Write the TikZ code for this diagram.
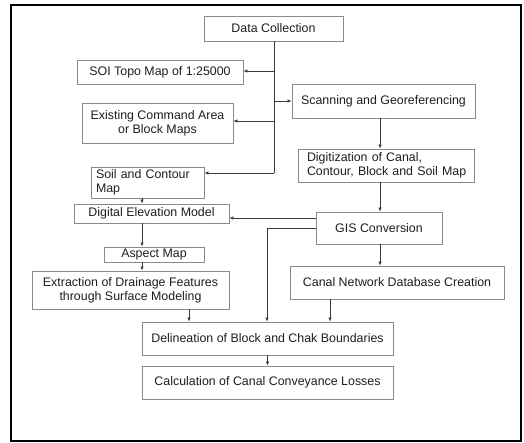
\documentclass[tikz,border=0pt]{standalone}
\usepackage{fontspec}
\setmainfont{Liberation Sans}
\usetikzlibrary{arrows.meta}
\definecolor{boxline}{HTML}{8A8A8A}
\definecolor{txt}{HTML}{1E1E1E}
\definecolor{conn}{HTML}{3A3A3A}
\begin{document}
\begin{tikzpicture}[x=1pt,y=-1pt,
  box/.style={draw=boxline,line width=0.8pt,inner sep=0pt,text=txt,
    font=\fontsize{12.4}{14}\selectfont,align=center},
  lbox/.style={draw=boxline,line width=0.8pt,inner ysep=0pt,text=txt,
    font=\fontsize{12.4}{14}\selectfont,align=left},
  arr/.style={draw=conn,line width=0.6pt,-{Latex[length=4pt,width=3.4pt]}},
  ln/.style={draw=conn,line width=0.6pt}]
\useasboundingbox (0,0) rectangle (524,443);
\fill[white] (0,0) rectangle (524,443);
\draw[line width=2pt] (11,5) rectangle (521,441);

\node[box,minimum width=139pt,minimum height=25pt] (dc) at (273.5,28.5) {Data Collection};
\node[box,minimum width=166pt,minimum height=24pt] (soi) at (160,72) {SOI Topo Map of 1:25000};
\node[box,minimum width=151pt,minimum height=40pt] (ex) at (157.5,123) {Existing Command Area\\or Block Maps};
\node[lbox,inner xsep=5pt,text width=103pt,minimum height=31pt] (soil) at (147.5,182.5) {Soil and Contour\\Map};
\node[box,minimum width=183pt,minimum height=34pt] (scan) at (383.5,101) {Scanning and Georeferencing};
\node[lbox,inner xsep=5pt,text width=166pt,minimum height=33pt] (dig) at (386,165.5) {\hspace*{4pt}Digitization of Canal,\\\hspace*{4pt}Contour, Block and Soil Map};
\node[box,minimum width=126pt,minimum height=32pt] (gis) at (379,228) {GIS Conversion};
\node[box,minimum width=155pt,minimum height=19pt] (dem) at (151.5,213.5) {Digital Elevation Model};
\node[box,minimum width=100pt,minimum height=15pt] (asp) at (154,254.5) {Aspect Map};
\node[box,minimum width=197pt,minimum height=38pt] (ext) at (130.5,290) {Extraction of Drainage Features\\through Surface Modeling};
\node[box,minimum width=214pt,minimum height=33pt] (cnd) at (397,282.5) {Canal Network Database Creation};
\node[box,minimum width=251pt,minimum height=33pt] (del) at (267.5,338.5) {Delineation of Block and Chak Boundaries};
\node[box,minimum width=251pt,minimum height=33pt] (calc) at (267.5,382.5) {Calculation of Canal Conveyance Losses};

\coordinate (bus) at (274,173);
\coordinate (ysoi) at (0,71);
\coordinate (yex) at (0,121);
\coordinate (yscan) at (0,101);
\coordinate (ydem) at (0,218);
\coordinate (x142) at (142,0);
\coordinate (x189) at (189,0);
\coordinate (x267) at (267,0);
\coordinate (x330) at (330,0);
\coordinate (x380) at (380,0);

\draw[ln] (dc.south -| bus) -- (bus);
\draw[arr] (bus |- ysoi) -- (soi.east |- ysoi);
\draw[arr] (bus |- yex) -- (ex.east |- yex);
\draw[arr] (bus) -- (bus -| soil.east);
\draw[arr] (bus |- yscan) -- (scan.west |- yscan);
\draw[arr] (scan.south -| x380) -- (dig.north -| x380);
\draw[arr] (dig.south -| x380) -- (gis.north -| x380);
\draw[arr] (gis.west |- ydem) -- (dem.east |- ydem);
\draw[arr] (gis.west) -| (del.north -| x267);
\draw[arr] (gis.south -| x380) -- (cnd.north -| x380);
\draw[arr] (cnd.south -| x330) -- (del.north -| x330);
\draw[arr] (soil.south -| x142) -- (dem.north -| x142);
\draw[arr] (dem.south -| x142) -- (asp.north -| x142);
\draw[arr] (asp.south -| x142) -- (ext.north -| x142);
\draw[arr] (ext.south -| x189) -- (del.north -| x189);
\draw[arr] (del.south) -- (calc.north);
\end{tikzpicture}
\end{document}
